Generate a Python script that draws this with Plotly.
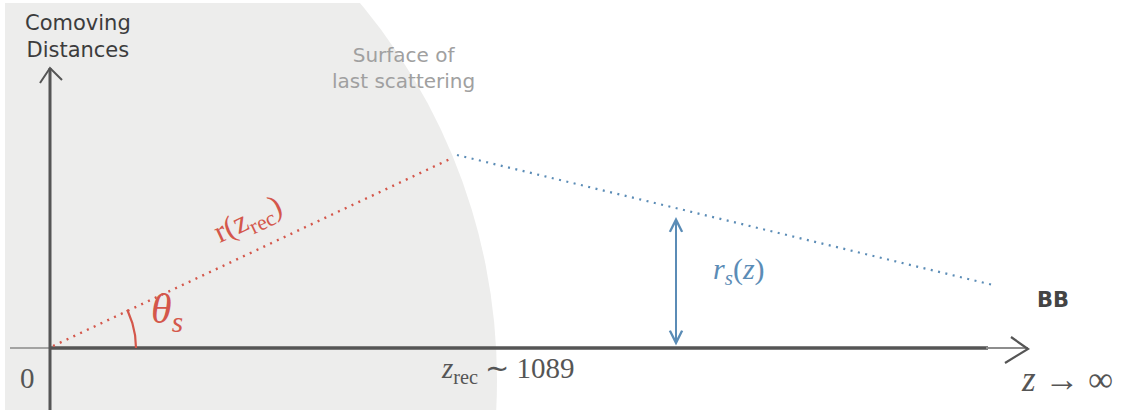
import numpy as np
import plotly.graph_objects as go

# ---- diagram quantities (units: screen px measured from the origin) ----
rec_point = [405, 191]          # where the line of sight meets the last-scattering surface
bb_point = [943, 63]            # end of the sound-horizon projection towards the Big Bang
rs_arrow_x = 626                # position of the r_s(z) arrow
rs_arrow_top = 131
surface_center = [-140, -32]    # last scattering surface (circle)
surface_radius = 587
theta_radius = 86
x_axis_end = 978
y_axis_end = 280

labels = {
    "axis": "Comoving<br>Distances",
    "surface": "Surface of<br>last scattering",
    "theta": "<i>θ<sub>s</sub></i>",
    "rz": "r(z<sub>rec</sub>)",
    "rs": "<i>r<sub>s</sub></i>(<i>z</i>)",
    "bb": "<b>BB</b>",
    "zinf": "<i>z</i> → ∞",
    "zero": "0",
    "zrec": "<i>z</i><sub>rec</sub> ∼ 1089",
}

RED = "#d4574b"
BLUE = "#5b8cb6"
AX = "#555555"
HAND = "DejaVu Sans"
SERIF = "Liberation Serif"

fig = go.Figure()

# surface of last scattering
fig.add_shape(type="circle", xref="x", yref="y",
              x0=surface_center[0] - surface_radius, x1=surface_center[0] + surface_radius,
              y0=surface_center[1] - surface_radius, y1=surface_center[1] + surface_radius,
              fillcolor="#ededec", line_width=0, layer="below")

# axes
fig.add_trace(go.Scatter(x=[-40, 0], y=[0, 0], mode="lines",
                         line=dict(color="#8a8a8a", width=1.5), hoverinfo="skip"))
fig.add_trace(go.Scatter(x=[0, x_axis_end - 40], y=[0, 0], mode="lines",
                         line=dict(color=AX, width=3.5), hoverinfo="skip"))
fig.add_trace(go.Scatter(x=[x_axis_end - 42, x_axis_end], y=[0, 0], mode="lines",
                         line=dict(color="#8d8d8d", width=1.8), hoverinfo="skip"))
fig.add_trace(go.Scatter(x=[x_axis_end - 17, x_axis_end, x_axis_end - 23],
                         y=[11, -1, -15], mode="lines",
                         line=dict(color=AX, width=2.2), hoverinfo="skip"))
fig.add_trace(go.Scatter(x=[0, 0], y=[-62, y_axis_end], mode="lines",
                         line=dict(color=AX, width=3), hoverinfo="skip"))
fig.add_trace(go.Scatter(x=[-10, 0, 12], y=[y_axis_end - 15, y_axis_end, y_axis_end - 12],
                         mode="lines", line=dict(color=AX, width=2), hoverinfo="skip"))

# line of sight to last scattering (red) and projection (blue)
fig.add_trace(go.Scatter(x=[3, rec_point[0] - 5], y=[2, rec_point[1] - 2], mode="lines",
                         line=dict(color=RED, width=2.4, dash="2px,5.5px"), hoverinfo="skip"))
fig.add_trace(go.Scatter(x=[rec_point[0] + 2, bb_point[0]], y=[rec_point[1] + 2, bb_point[1]],
                         mode="lines", line=dict(color=BLUE, width=2.2, dash="2px,5.5px"),
                         hoverinfo="skip"))

# theta_s arc
ang = np.linspace(0, np.arctan2(rec_point[1], rec_point[0]) + 0.02, 40)
fig.add_trace(go.Scatter(x=theta_radius * np.cos(ang), y=theta_radius * np.sin(ang),
                         mode="lines", line=dict(color=RED, width=2.2), hoverinfo="skip"))

# r_s arrow
fig.add_annotation(x=rs_arrow_x, y=rs_arrow_top, ax=rs_arrow_x, ay=1,
                   xref="x", yref="y", axref="x", ayref="y", text="",
                   showarrow=True, arrowside="end+start", arrowhead=5, startarrowhead=5,
                   arrowsize=1.2, startarrowsize=1.2, arrowwidth=2, arrowcolor=BLUE,
                   standoff=0, startstandoff=0)

def txt(x, y, text, size, color, family, **kw):
    fig.add_annotation(x=x, y=y, xref="x", yref="y", text=text, showarrow=False,
                       font=dict(size=size, color=color, family=family), **kw)

txt(28, 312, labels["axis"], 21, "#3c3c3c", HAND, align="center")
txt(353, 280, labels["surface"], 20, "#a0a0a0", HAND, align="center")
txt(117, 36, labels["theta"], 42, RED, SERIF)
txt(198, 127, labels["rz"], 31, RED, SERIF, textangle=-25)
txt(689, 77, labels["rs"], 30, BLUE, SERIF)
txt(1003, 48, labels["bb"], 21, "#444444", HAND)
txt(1017, -31, labels["zinf"], 35, AX, SERIF)
txt(-23, -30, labels["zero"], 29, AX, SERIF)
txt(458, -22, labels["zrec"], 29, AX, SERIF)

fig.update_layout(
    width=1125, height=413,
    margin=dict(l=5, r=0, t=3, b=3),
    paper_bgcolor="white", plot_bgcolor="white",
    showlegend=False,
    hovermode=False,
    xaxis=dict(range=[-45, 1075], visible=False, fixedrange=True),
    yaxis=dict(range=[-62, 345], visible=False, fixedrange=True),
)

fig.write_html("out.html", config={"displayModeBar": False, "staticPlot": True},
               post_script="document.body.style.margin='0';document.body.style.overflow='hidden';")
